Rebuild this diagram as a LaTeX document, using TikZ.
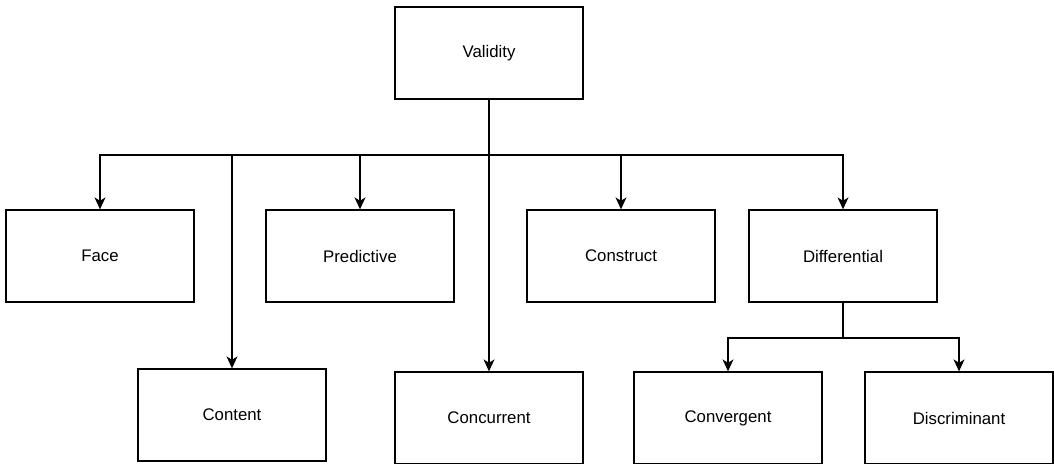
\documentclass[tikz,border=0pt]{standalone}
\usepackage{fontspec}
\setmainfont{Liberation Sans}
\usetikzlibrary{arrows.meta}
\begin{document}
\begin{tikzpicture}[x=1pt,y=-1pt,
  box/.style={draw=black,line width=1.3pt,minimum width=188pt,minimum height=92pt,inner sep=0pt,font=\fontsize{16.8}{20}\selectfont,fill=white},
  link/.style={draw=black,line width=1.3pt},
  arr/.style={link,-{Stealth[length=12pt,width=11pt,inset=3.5pt]}}]
\useasboundingbox (0,0) rectangle (1054,463);
\node[box] (val) at (489,53) {Validity};
\node[box] (face) at (100,256) {Face};
\node[box] (pred) at (360,256) {Predictive};
\node[box] (cons) at (621,256) {Construct};
\node[box] (diff) at (843,256) {Differential};
\node[box] (cont) at (232,415) {Content};
\node[box] (conc) at (489,418) {Concurrent};
\node[box] (conv) at (728,418) {Convergent};
\node[box] (disc) at (959,418) {Discriminant};
\coordinate (j) at (489,155);
\coordinate (k) at (843,338);
\draw[link] (val.south) -- (j);
\draw[arr] (j) -| (face.north);
\draw[arr] (j) -| (pred.north);
\draw[arr] (j) -| (cons.north);
\draw[arr] (j) -| (diff.north);
\draw[arr] (j) -| (cont.north);
\draw[arr] (j) -- (conc.north);
\draw[link] (diff.south) -- (k);
\draw[arr] (k) -| (conv.north);
\draw[arr] (k) -| (disc.north);
\end{tikzpicture}
\end{document}
